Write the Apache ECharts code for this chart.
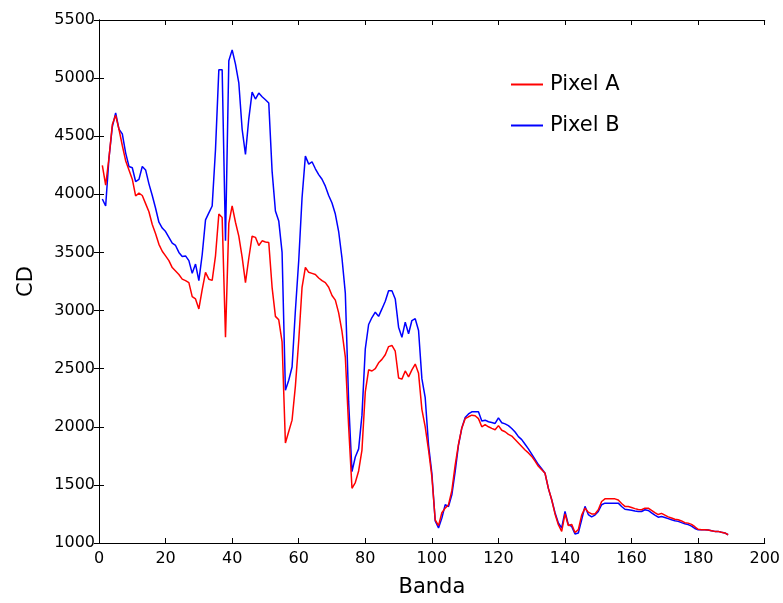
<!DOCTYPE html>
<html>
    <head>
        <meta charset="utf-8">
        <script src="https://cdn.jsdelivr.net/npm/echarts@6.0.0/dist/echarts.min.js"></script>
        <style>
            html, body { margin: 0; padding: 0; background: #ffffff; }
            #chart { width: 783px; height: 603px; }
        </style>
    </head>
    <body>
        <div id="chart"></div>
        <script>
            // CD per banda
            const pixelA = [
                4250, 4080, 4314, 4600, 4680, 4560, 4420, 4290, 4210, 4130,
                3986, 4010, 3990, 3920, 3850, 3740, 3660, 3570, 3510, 3470,
                3430, 3370, 3340, 3310, 3270, 3257, 3240, 3120, 3100, 3014,
                3180, 3329, 3270, 3260, 3471, 3830, 3800, 2771, 3750, 3900,
                3760, 3640, 3460, 3240, 3450, 3640, 3630, 3560, 3600, 3590,
                3586, 3200, 2950, 2920, 2730, 1860, 1960, 2057, 2350, 2740,
                3200, 3371, 3329, 3320, 3310, 3280, 3257, 3240, 3200, 3130,
                3090, 2980, 2820, 2600, 2000, 1471, 1520, 1620, 1800, 2300,
                2490, 2480, 2500, 2550, 2580, 2620, 2690, 2700, 2650, 2420,
                2410, 2480, 2430, 2490, 2540, 2460, 2150, 2000, 1800, 1570,
                1200, 1150, 1260, 1300, 1330, 1450, 1670, 1850, 1990, 2070,
                2086, 2100, 2095, 2070, 2000, 2018, 2000, 1986, 1975, 2010,
                1970, 1957, 1935, 1920, 1890, 1860, 1830, 1800, 1775, 1745,
                1705, 1660, 1630, 1600, 1470, 1372, 1250, 1157, 1100, 1250,
                1150, 1160, 1090, 1115, 1240, 1300, 1265, 1250, 1250, 1286,
                1357, 1380, 1380, 1380, 1380, 1370, 1340, 1315, 1314, 1305,
                1296, 1288, 1286, 1300, 1300, 1280, 1262, 1245, 1255, 1240,
                1225, 1215, 1205, 1200, 1190, 1175, 1171, 1160, 1140, 1118,
                1114, 1114, 1112, 1106, 1100, 1100, 1092, 1087, 1071
            ];
            const pixelB = [
                3960, 3900, 4314, 4580, 4700, 4560, 4520, 4357, 4240, 4229,
                4110, 4129, 4240, 4210, 4090, 3990, 3880, 3760, 3710, 3680,
                3630, 3580, 3560, 3500, 3465, 3470, 3430, 3320, 3400, 3257,
                3480, 3780, 3840, 3900, 4386, 5071, 5071, 3600, 5150, 5243,
                5120, 4960, 4560, 4343, 4650, 4880, 4820, 4871, 4840, 4814,
                4786, 4200, 3857, 3771, 3500, 2314, 2400, 2514, 3000, 3429,
                3971, 4329, 4260, 4280, 4220, 4170, 4130, 4070, 3990, 3925,
                3830, 3680, 3450, 3150, 2214, 1614, 1740, 1810, 2100, 2670,
                2880, 2940, 2986, 2950, 3014, 3080, 3171, 3171, 3100, 2857,
                2770, 2900, 2800, 2914, 2930, 2829, 2414, 2250, 1843, 1600,
                1190, 1129, 1214, 1329, 1314, 1414, 1614, 1843, 1990, 2080,
                2110, 2129, 2129, 2129, 2050, 2057, 2043, 2037, 2029, 2077,
                2035, 2025, 2010, 1985, 1955, 1915, 1890, 1850, 1810, 1765,
                1720, 1675, 1640, 1600, 1470, 1372, 1260, 1172, 1129, 1272,
                1157, 1143, 1077, 1086, 1200, 1315, 1245, 1225, 1240, 1271,
                1329, 1343, 1343, 1343, 1343, 1343, 1314, 1290, 1286, 1282,
                1275, 1271, 1271, 1286, 1280, 1260, 1240, 1222, 1228, 1220,
                1210, 1200, 1192, 1186, 1175, 1165, 1158, 1145, 1125, 1114,
                1114, 1114, 1112, 1106, 1100, 1100, 1092, 1087, 1071
            ];
            const bandas = pixelA.map((_, i) => i + 1);
            const seriesNames = ['Pixel A', 'Pixel B'];

            const font = 'DejaVu Sans';
            const chart = echarts.init(document.getElementById('chart'));

            function pairs(values){
                return values.map((v, i) => [bandas[i], v]);
            }

            const frameAxis = {
                axisLine: { show: true, lineStyle: { color: '#000', width: 1 } },
                axisTick: { show: true, inside: true, length: 5, lineStyle: { color: '#000' } },
                splitLine: { show: false }
            };

            chart.setOption({
                animation: false,
                backgroundColor: '#ffffff',
                textStyle: { fontFamily: font },
                grid: { left: 99, right: 17, top: 20, bottom: 58 },
                legend: {
                    data: seriesNames,
                    orient: 'vertical',
                    left: 506,
                    top: 69,
                    itemWidth: 32,
                    itemHeight: 2,
                    itemGap: 20,
                    icon: 'rect',
                    textStyle: { fontFamily: font, fontSize: 21, color: '#000', padding: [0, 0, 0, 2] }
                },
                xAxis: [
                    Object.assign({
                        type: 'value', min: 0, max: 200, interval: 20,
                        name: 'Banda', nameLocation: 'middle', nameGap: 34,
                        nameTextStyle: { fontFamily: font, fontSize: 21, color: '#000' },
                        axisLabel: { fontFamily: font, fontSize: 16, color: '#000', margin: 8 }
                    }, frameAxis),
                    Object.assign({
                        type: 'value', min: 0, max: 200, interval: 20, position: 'top',
                        axisLabel: { show: false }
                    }, frameAxis)
                ],
                yAxis: [
                    Object.assign({
                        type: 'value', min: 1000, max: 5500, interval: 500,
                        name: 'CD', nameLocation: 'middle', nameGap: 62,
                        nameTextStyle: { fontFamily: font, fontSize: 21, color: '#000' },
                        axisLabel: {
                            fontFamily: font, fontSize: 16, color: '#000', margin: 4,
                            formatter: v => String(v)
                        }
                    }, frameAxis),
                    Object.assign({
                        type: 'value', min: 1000, max: 5500, interval: 500, position: 'right',
                        axisLabel: { show: false }
                    }, frameAxis)
                ],
                series: [
                    {
                        name: 'Pixel B', type: 'line', data: pairs(pixelB),
                        showSymbol: false, color: '#0000ff',
                        lineStyle: { width: 1.5, color: '#0000ff' }
                    },
                    {
                        name: 'Pixel A', type: 'line', data: pairs(pixelA),
                        showSymbol: false, color: '#ff0000',
                        lineStyle: { width: 1.5, color: '#ff0000' }
                    }
                ]
            });
        </script>
    </body>
</html>
